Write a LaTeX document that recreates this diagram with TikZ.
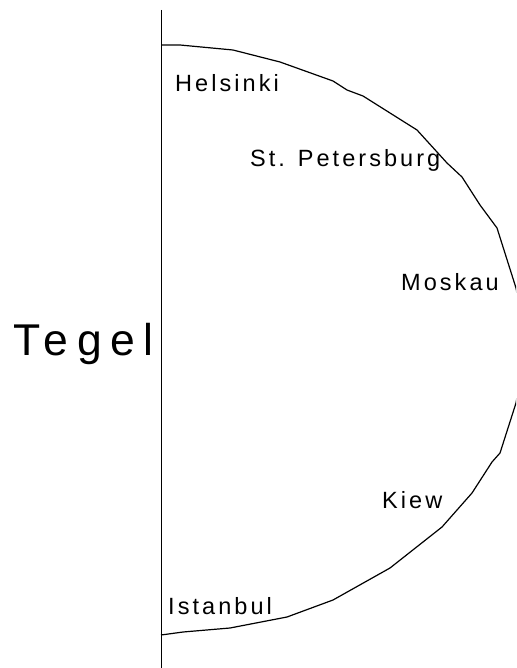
\documentclass[tikz,border=0pt]{standalone}
\usepackage{fontspec}
\setmainfont{Liberation Sans}[LetterSpace=13]
\newfontfamily\bigfont{Liberation Sans}[LetterSpace=19]
\begin{document}
\begin{tikzpicture}[x=1pt,y=-1pt,
  city/.style={anchor=base west,inner sep=0pt,font=\fontsize{23.5}{26}\selectfont},
  big/.style={anchor=base west,inner sep=0pt,font=\bigfont\fontsize{44.5}{48}\selectfont}]
\path[use as bounding box] (0,0) rectangle (516,668);
\clip (0,0) rectangle (516,668);
\draw[line width=0.9pt] (161,10) coordinate (top) -- (161,670) coordinate (bot);
\draw[line width=1.2pt,line join=round]
  (161,45) -- (180,45) -- (233,50) -- (280,62) -- (333,81) -- (347,90) -- (363,96)
  -- (417,130) -- (447,163) -- (462,177) -- (480,205) -- (497,228) -- (516,288)
  -- (526,345) -- (516,403) -- (500,453) -- (492,462) -- (472,493) -- (442,527)
  -- (390,568) -- (333,600) -- (287,617) -- (230,628) -- (183,632) -- (161,635);
\node[big] (tegel) at (13,355) {Tegel};
\node[city] (hel) at (175,92) {Helsinki};
\node[city] (stp) at (250,167) {St. Petersburg};
\node[city] (mos) at (401,290) {Moskau};
\node[city] (kiew) at (382,508) {Kiew};
\node[city] (ist) at (168,614) {Istanbul};
\end{tikzpicture}
\end{document}
